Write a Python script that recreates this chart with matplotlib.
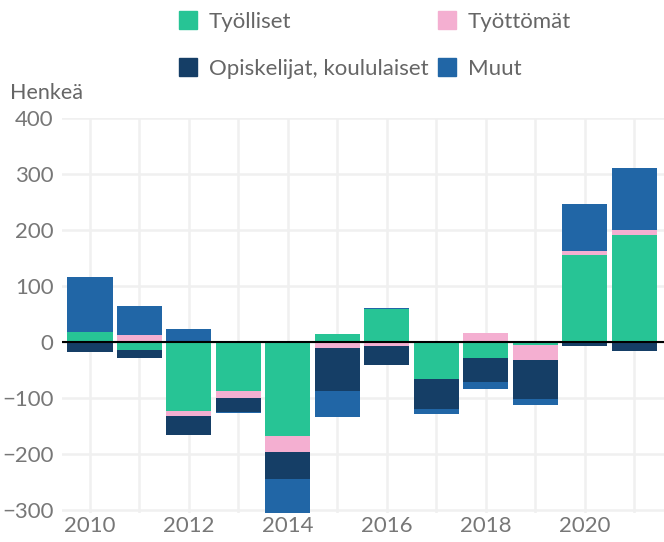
import numpy as np
import matplotlib
matplotlib.use('Agg')
import matplotlib.pyplot as plt
from matplotlib.patches import Patch

plt.rcParams['font.family'] = ['Lato', 'DejaVu Sans']

years = np.arange(2010, 2022)
tyolliset = [18, -14, -123, -88, -167, 14, 59, -66, -29, -5, 155, 191]
tyottomat = [0, 12, -9, -12, -29, -11, -7, 1, 16, -27, 8, 9]
opiskelijat = [-18, -14, -34, -25, -49, -77, -34, -54, -43, -70, -7, -16]
muut = [98, 52, 23, -2, -70, -45, 2, -9, -11, -11, 84, 111]

series = [
    ('Työlliset', tyolliset, '#27c495'),
    ('Työttömät', tyottomat, '#f4afd1'),
    ('Opiskelijat, koululaiset', opiskelijat, '#153e66'),
    ('Muut', muut, '#2166a6'),
]

fig = plt.figure(figsize=(6.64, 5.42), dpi=100)
ax = fig.add_axes([62 / 664, 1 - 513 / 542, 1 - 62 / 664, (513 - 118) / 542])

# positive and negative parts stack separately, outward from zero
pos_base = np.zeros(len(years))
neg_base = np.zeros(len(years))
handles = {}
for name, vals, col in series:
    v = np.array(vals, dtype=float)
    base = np.where(v >= 0, pos_base, neg_base)
    ax.bar(years, v, bottom=base, width=0.91, color=col, zorder=2)
    pos_base += np.where(v >= 0, v, 0)
    neg_base += np.where(v < 0, v, 0)
    handles[name] = Patch(color=col, label=name)

ax.axhline(0, color='black', lw=1.5, zorder=3)
ax.set_ylim(-305, 400)
ax.set_xlim(2009.434, 2021.6)
ax.set_yticks(range(-300, 401, 100))
ax.set_xticks(years, minor=True)
ax.set_xticks(years[::2])
ax.grid(True, which='both', color='#f0f0f0', lw=1.8, zorder=0)
for s in ax.spines.values():
    s.set_visible(False)
ax.tick_params(which='both', length=0, labelsize=16, colors='#777777', pad=6)
ax.tick_params(axis='x', pad=2)

fig.text(10 / 664, 1 - 93 / 542, 'Henkeä', fontsize=15.5, color='#666666',
         va='center', ha='left')

order = ['Työlliset', 'Opiskelijat, koululaiset', 'Työttömät', 'Muut']
fig.legend(handles=[handles[n] for n in order], ncol=2, loc='center',
           bbox_to_anchor=(375 / 664, 1 - 45 / 542), frameon=False,
           fontsize=16, labelcolor='#666666', handlelength=0.82,
           handleheight=0.82, handletextpad=0.55, columnspacing=0.4,
           labelspacing=1.2)

fig.savefig('out.png', dpi=100)
